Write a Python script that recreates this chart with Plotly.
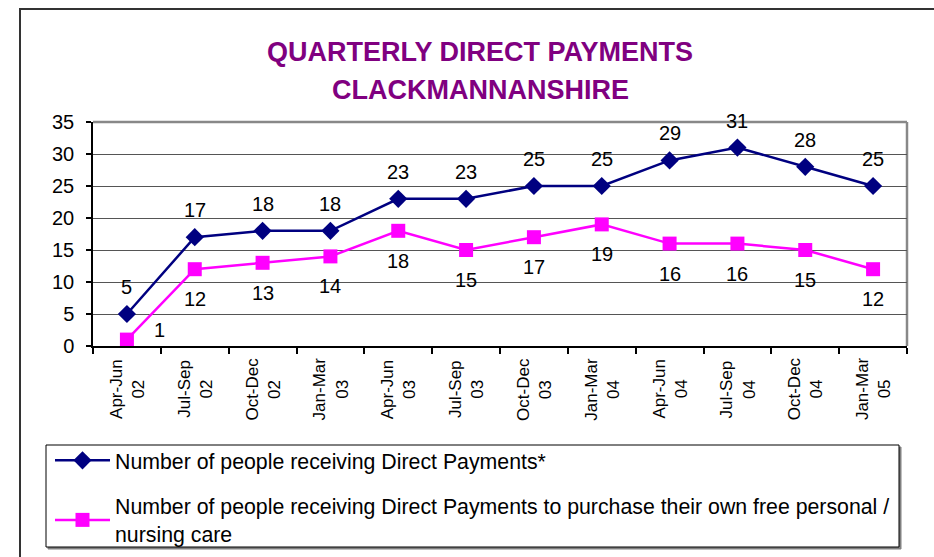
import plotly.graph_objects as go

# ---------------- data ----------------
categories = ["Apr-Jun<br>02", "Jul-Sep<br>02", "Oct-Dec<br>02", "Jan-Mar<br>03",
              "Apr-Jun<br>03", "Jul-Sep<br>03", "Oct-Dec<br>03", "Jan-Mar<br>04",
              "Apr-Jun<br>04", "Jul-Sep<br>04", "Oct-Dec<br>04", "Jan-Mar<br>05"]
direct_payments = [5, 17, 18, 18, 23, 23, 25, 25, 29, 31, 28, 25]
personal_care = [1, 12, 13, 14, 18, 15, 17, 19, 16, 16, 15, 12]
y_ticks = [0, 5, 10, 15, 20, 25, 30, 35]

name_dp = "Number of people receiving Direct Payments*"
name_pc = ("Number of people receiving Direct Payments to purchase their own free personal /"
           "<br>nursing care")
title_1 = "QUARTERLY DIRECT PAYMENTS"
title_2 = "CLACKMANNANSHIRE"

FONT = "Liberation Sans, Arial, sans-serif"
NAVY = "#000080"
MAGENTA = "#FF00FF"
PURPLE = "#800080"

W, H = 934, 557
L, R, T, B = 93, 27, 122, 211
PW, PH = W - L - R, H - T - B


def px(x):
    return (x - L) / PW


def py(y):
    return (H - B - y) / PH


fig = go.Figure()
fig.add_trace(go.Scatter(
    x=categories, y=direct_payments, name=name_dp, mode="lines+markers",
    line=dict(color=NAVY, width=2.5),
    marker=dict(symbol="diamond", size=14, color=NAVY),
    legendgroup="a",
))
fig.add_trace(go.Scatter(
    x=categories, y=personal_care, name=name_pc, mode="lines+markers",
    line=dict(color=MAGENTA, width=2.5),
    marker=dict(symbol="square", size=14, color=MAGENTA),
    legendgroup="b",
))

annotations = []
for c, v in zip(categories, direct_payments):
    annotations.append(dict(x=c, y=v, xref="x", yref="y", text=str(v), showarrow=False,
                            yshift=27, font=dict(family=FONT, size=20, color="black")))
for i, (c, v) in enumerate(zip(categories, personal_care)):
    if i == 0:
        xs, ys = 33, 10
    else:
        xs, ys = 0, -30
    annotations.append(dict(x=c, y=v, xref="x", yref="y", text=str(v), showarrow=False,
                            xshift=xs, yshift=ys, font=dict(family=FONT, size=20, color="black")))

# category labels, rotated and centred like the original
for c in categories:
    annotations.append(dict(x=c, y=py(389), xref="x", yref="paper", text=c, showarrow=False,
                            textangle=-90, align="center", xanchor="center", yanchor="middle",
                            font=dict(family=FONT, size=17, color="black")))

annotations.append(dict(x=px(480), y=py(52), xref="paper", yref="paper", text=f"<b>{title_1}</b>",
                        showarrow=False, xanchor="center", yanchor="middle",
                        font=dict(family=FONT, size=27, color=PURPLE)))
annotations.append(dict(x=px(480), y=py(90), xref="paper", yref="paper", text=f"<b>{title_2}</b>",
                        showarrow=False, xanchor="center", yanchor="middle",
                        font=dict(family=FONT, size=27, color=PURPLE)))

shapes = [
    # outer chart frame (left and top)
    dict(type="line", xref="paper", yref="paper", x0=px(20), x1=px(20), y0=py(8), y1=py(560),
         line=dict(color="#333333", width=2)),
    dict(type="line", xref="paper", yref="paper", x0=px(20), x1=px(940), y0=py(9), y1=py(9),
         line=dict(color="#333333", width=2)),
    # plot area border (top/right grey)
    dict(type="line", xref="paper", yref="paper", x0=0, x1=1, y0=1, y1=1,
         line=dict(color="#888888", width=2.5), layer="below"),
    dict(type="line", xref="paper", yref="paper", x0=1, x1=1, y0=0, y1=1,
         line=dict(color="#888888", width=2.5), layer="below"),
    # legend box shadow + box
    dict(type="rect", xref="paper", yref="paper", x0=px(48), x1=px(901), y0=py(549), y1=py(447),
         line=dict(color="#808080", width=1), fillcolor="#808080"),
    dict(type="rect", xref="paper", yref="paper", x0=px(46), x1=px(899), y0=py(547), y1=py(445),
         line=dict(color="black", width=1), fillcolor="white"),
]

fig.update_layout(
    width=W, height=H, autosize=False,
    margin=dict(l=L, r=R, t=T, b=B, pad=0, autoexpand=False),
    paper_bgcolor="white", plot_bgcolor="white",
    font=dict(family=FONT, size=17, color="black"),
    showlegend=True,
    legend=dict(
        x=px(50), y=py(440), xanchor="left", yanchor="top",
        bgcolor="rgba(0,0,0,0)", borderwidth=0,
        font=dict(family=FONT, size=21.3, color="black"),
        itemwidth=55, tracegroupgap=15, traceorder="grouped",
        itemclick=False,
    ),
    annotations=annotations,
    shapes=shapes,
    xaxis=dict(
        type="category", range=[-0.5, len(categories) - 0.5],
        showgrid=False, zeroline=False,
        showline=True, linecolor="black", linewidth=1.5,
        ticks="outside", tickson="boundaries", ticklen=6, tickcolor="black", tickwidth=1.5,
        showticklabels=False,
        fixedrange=True,
    ),
    yaxis=dict(
        range=[0, 35], tickvals=y_ticks, ticktext=[str(t) for t in y_ticks],
        showgrid=True, gridcolor="#555555", gridwidth=1.3,
        zeroline=False,
        showline=True, linecolor="black", linewidth=1.5,
        ticks="outside", ticklen=5, tickcolor="black", tickwidth=1.5,
        tickfont=dict(family=FONT, size=20, color="black"),
        ticklabelstandoff=8,
        fixedrange=True,
    ),
)

fig.write_html("out.html", config={"displayModeBar": False},
               post_script="document.body.style.margin='0';document.body.style.overflow='hidden';")
